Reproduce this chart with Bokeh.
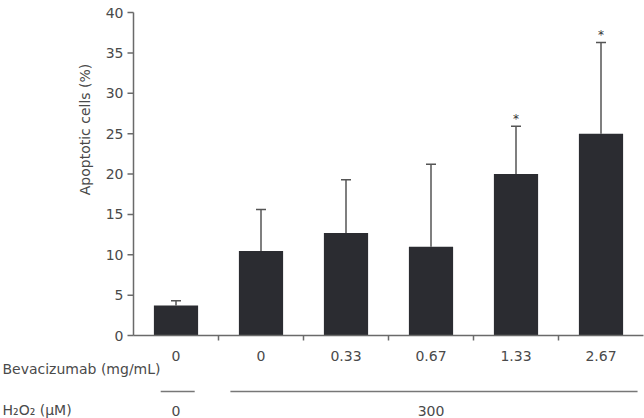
import math
from bokeh.plotting import figure
from bokeh.models import ColumnDataSource, Range1d, Whisker, TeeHead
from bokeh.core.properties import value
from bokeh.embed import file_html
from bokeh.resources import INLINE

# Bevacizumab dose per group (mg/mL) and H2O2 treatment
bev_labels = ["0", "0", "0.33", "0.67", "1.33", "2.67"]
apoptotic_mean = [3.7, 10.45, 12.7, 11.0, 20.0, 25.0]
apoptotic_sd = [0.6, 5.15, 6.6, 10.2, 5.9, 11.3]
significance = ["", "", "", "", "*", "*"]
y_ticks = [0, 5, 10, 15, 20, 25, 30, 35, 40]
h2o2_labels = ["0", "300"]
h2o2_groups = [(0, 1), (1, 6)]   # category index span of each H2O2 group

FONT = "DejaVu Sans"
TEXT = "#4a4a4a"
AXIS = "#6a6a6a"
BAR = "#2b2c31"

W, H = 644, 418
# where the axes sit on the canvas (pixels)
AX_LEFT, AX_RIGHT, AX_TOP, AX_BOTTOM = 133, 643, 12, 335
n = len(bev_labels)
YMAX = y_ticks[-1]
px_x = (AX_RIGHT - AX_LEFT) / n
px_y = (AX_BOTTOM - AX_TOP) / YMAX

def dx(px):
    return (px - AX_LEFT) / px_x
def dy(py):
    return (AX_BOTTOM - py) / px_y

# the frame fills the whole canvas; axes are drawn at x=0 / y=0
p = figure(width=W, height=H, output_backend="svg", toolbar_location=None,
           x_range=Range1d(dx(0), dx(W)), y_range=Range1d(dy(H), dy(0)),
           x_axis_location=None, y_axis_location=None,
           min_border=0)
p.outline_line_color = None
p.xgrid.visible = False
p.ygrid.visible = False

xs = [i + 0.5 for i in range(n)]
upper = [m + s for m, s in zip(apoptotic_mean, apoptotic_sd)]
src = ColumnDataSource(dict(x=xs, top=apoptotic_mean, upper=upper,
                            sig=significance, lab=bev_labels))

p.vbar(x="x", top="top", width=0.52, source=src, fill_color=BAR,
       line_color=None)

p.add_layout(Whisker(base="x", lower="top", upper="upper", source=src,
                     line_color="#555555", line_width=1.5,
                     lower_head=None,
                     upper_head=TeeHead(size=10, line_color="#555555",
                                        line_width=1.5)))

p.text(x="x", y="upper", text="sig", source=src, text_align="center",
       text_baseline="alphabetic", y_offset=-7, text_font=value(FONT),
       text_font_size="12px", text_color="#333333")

# y axis
p.segment(x0=[0], y0=[0], x1=[0], y1=[YMAX], line_color=AXIS, line_width=1.5)
p.ray(x=[0] * len(y_ticks), y=y_ticks, length=6, length_units="screen",
      angle=math.pi, line_color=AXIS, line_width=1.5)
p.text(x=[0] * len(y_ticks), y=y_ticks, text=[str(t) for t in y_ticks],
       x_offset=-10, text_align="right", text_baseline="middle",
       text_font=value(FONT), text_font_size="14px", text_color=TEXT)

# x axis with ticks between categories
p.segment(x0=[0], y0=[0], x1=[n], y1=[0], line_color=AXIS, line_width=1.5)
p.ray(x=list(range(1, n)), y=[0] * (n - 1), length=5, length_units="screen",
      angle=-math.pi / 2, line_color=AXIS, line_width=1.5)

def txt(x, y, text, align="center", angle=0.0, size="14px"):
    p.text(x=[x], y=[y], text=[text], text_align=align,
           text_baseline="middle", angle=angle, text_font=value(FONT),
           text_font_size=size, text_color=TEXT)

# y axis title
txt(dx(84), dy(129), "Apoptotic cells (%)", angle=math.pi / 2)

# bevacizumab row
p.text(x="x", y=dy(355), text="lab", source=src, text_align="center",
       text_baseline="middle", text_font=value(FONT), text_font_size="14px",
       text_color=TEXT)
txt(dx(160), dy(368), "Bevacizumab (mg/mL)", align="right")

# H2O2 row with group brackets
pads = [(0.32, 0.28), (0.14, 0.07)]
for (a, b), t, (pl, pr) in zip(h2o2_groups, h2o2_labels, pads):
    p.segment(x0=[a + pl], x1=[b - pr], y0=[dy(391)], y1=[dy(391)],
              line_color="#777777", line_width=1.5)
    txt((a + b) / 2, dy(410), t)
txt(dx(2), dy(409), "H\u2082O\u2082 (\u03bcM)", align="left")

open("out.html", "w").write(file_html(p, INLINE))
